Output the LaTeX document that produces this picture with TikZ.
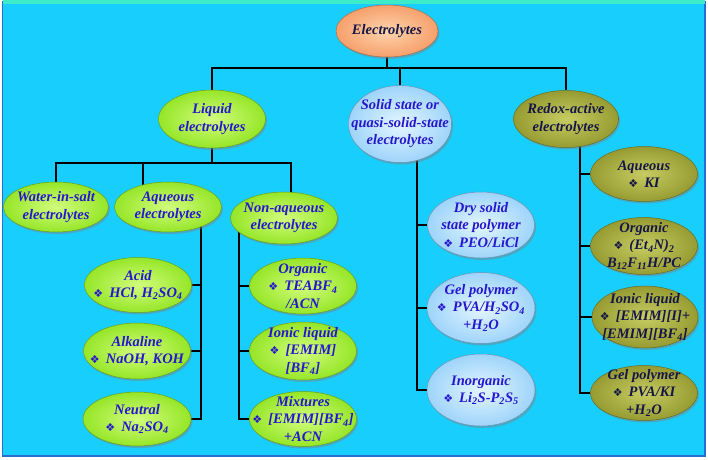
\documentclass[tikz,border=0pt]{standalone}
\usepackage{fontspec}
\setmainfont{Liberation Serif}
\newfontfamily\symfont{DejaVu Sans}
\usetikzlibrary{shapes.geometric,shadows}
\definecolor{bgcyan}{RGB}{24,206,252}
\definecolor{framebl}{RGB}{40,110,210}
\definecolor{topteal}{RGB}{60,235,200}
\definecolor{txtblue}{RGB}{38,22,205}
\definecolor{txtnavy}{RGB}{22,22,70}
\definecolor{grin}{RGB}{210,252,125}
\definecolor{grout}{RGB}{150,230,40}
\definecolor{blin}{RGB}{228,246,255}
\definecolor{blout}{RGB}{158,212,250}
\definecolor{olin}{RGB}{198,203,98}
\definecolor{olout}{RGB}{150,155,50}
\definecolor{saIn}{RGB}{255,212,172}
\definecolor{saOut}{RGB}{246,160,108}
\newcommand{\dia}{{\symfont\fontsize{11}{11}\selectfont ❖}\ \,}
\newcommand{\lo}[1]{\textsubscript{#1}}
\pgfdeclarelayer{bg}
\pgfdeclarelayer{lines}
\pgfsetlayers{bg,lines,main}
\tikzset{
  oval/.style={ellipse, inner xsep=-30pt, inner ysep=-20pt, align=center,
    font=\bfseries\itshape\fontsize{14.5}{17.5}\selectfont,
    line width=0.5pt,
    drop shadow={opacity=0.45,shadow xshift=1.5pt,shadow yshift=-2pt}},
  greenov/.style={oval, draw=grout!70!black, inner color=grin, outer color=grout, text=txtblue},
  blueov/.style={oval, draw=blout!70!black, inner color=blin, outer color=blout, text=txtblue},
  oliveov/.style={oval, draw=olout!70!black, inner color=olin, outer color=olout, text=txtnavy},
  salmonov/.style={oval, draw=saOut!70!black, inner color=saIn, outer color=saOut, text=txtnavy},
  conn/.style={draw=black, line width=1.8pt},
}
\begin{document}
\begin{tikzpicture}[x=1pt,y=-1pt]
\begin{pgfonlayer}{bg}
  \fill[white] (0,0) rectangle (708,459);
  \fill[bgcyan, draw=framebl, line width=1.5pt] (2.5,2) rectangle (705,456);
  \fill[topteal] (2.5,0) rectangle (705,4);
\end{pgfonlayer}
\useasboundingbox (0,0) rectangle (708,459);

% level 0 and 1
\node[salmonov, minimum width=102pt, minimum height=52pt] (el) at (387,31) {Electrolytes};
\node[greenov, minimum width=107pt, minimum height=58pt] (liq) at (212,119) {Liquid\\electrolytes};
\node[blueov, minimum width=103pt, minimum height=77pt] (sol) at (400,124) {Solid state or\\quasi-solid-state\\electrolytes};
\node[oliveov, minimum width=105pt, minimum height=57pt] (red) at (566,119) {Redox-active\\electrolytes};

% liquid level 2
\node[greenov, minimum width=105pt, minimum height=50pt] (wat) at (56,207) {Water-in-salt\\electrolytes};
\node[greenov, minimum width=107pt, minimum height=50pt] (aq) at (168,207) {Aqueous\\electrolytes};
\node[greenov, minimum width=107pt, minimum height=52pt] (naq) at (284,218) {Non-aqueous\\electrolytes};

% aqueous children
\node[greenov, minimum width=107pt, minimum height=55pt] (acid) at (138,285) {Acid\\\dia HCl, H\lo{2}SO\lo{4}};
\node[greenov, minimum width=107pt, minimum height=56pt] (alk) at (137,351) {Alkaline\\\dia NaOH, KOH};
\node[greenov, minimum width=108pt, minimum height=54pt] (neu) at (137,419) {Neutral\\\dia Na\lo{2}SO\lo{4}};

% non-aqueous children
\node[greenov, minimum width=107pt, minimum height=56pt] (org) at (303,286) {Organic\\\dia TEABF\lo{4}\\/ACN};
\node[greenov, minimum width=107pt, minimum height=58pt] (ion) at (303,351) {Ionic liquid\\\dia {[}EMIM{]}\\{[}BF\lo{4}{]}};
\node[greenov, minimum width=107pt, minimum height=55pt] (mix) at (303,419) {Mixtures\\\dia {[}EMIM{]}{[}BF\lo{4}{]}\\+ACN};

% solid children
\node[blueov, minimum width=107pt, minimum height=66pt] (dry) at (481,225) {Dry solid\\state polymer\\\dia PEO/LiCl};
\node[blueov, minimum width=108pt, minimum height=71pt] (gel) at (481,308) {Gel polymer\\\dia PVA/H\lo{2}SO\lo{4}\\+H\lo{2}O};
\node[blueov, minimum width=108pt, minimum height=72pt] (ino) at (481,390) {Inorganic\\\dia Li\lo{2}S-P\lo{2}S\lo{5}};

% redox children
\node[oliveov, minimum width=107pt, minimum height=55pt] (raq) at (644,174) {Aqueous\\\dia KI};
\node[oliveov, minimum width=107pt, minimum height=57pt] (rorg) at (644,246) {Organic\\\dia (Et\lo{4}N)\lo{2}\\B\lo{12}F\lo{11}H/PC};
\node[oliveov, minimum width=106pt, minimum height=62pt] (rion) at (645,317) {Ionic liquid\\\dia {[}EMIM{]}{[}I{]}+\\{[}EMIM{]}{[}BF\lo{4}{]}};
\node[oliveov, minimum width=107pt, minimum height=55pt] (rgel) at (644,393) {Gel polymer\\\dia PVA/KI\\+H\lo{2}O};

% junction coordinates
\coordinate (b0) at (387,68);
\coordinate (b1a) at (55,163);
\coordinate (b1b) at (143,163);
\coordinate (b1c) at (291,163);
\coordinate (v1) at (201,207);
\coordinate (v2) at (239,218);
\coordinate (v3) at (417,124);
\coordinate (v4) at (580,119);

\begin{pgfonlayer}{lines}
  % top tree
  \draw[conn] (el) -- (el |- b0);
  \draw[conn] (liq) -- (liq |- b0) -- (red |- b0) -- (red);
  \draw[conn] (sol) -- (sol |- b0);
  % liquid tree
  \draw[conn] (liq) -- (liq |- b1a);
  \draw[conn] (wat) -- (wat |- b1a) -- (b1c) -- (b1c |- naq);
  \draw[conn] (b1b) -- (b1b |- aq);
  % aqueous children
  \draw[conn] (v1) -- (v1 |- neu) -- (neu);
  \draw[conn] (acid) -- (acid -| v1);
  \draw[conn] (alk) -- (alk -| v1);
  % non-aqueous children
  \draw[conn] (v2) -- (v2 |- mix) -- (mix);
  \draw[conn] (org) -- (org -| v2);
  \draw[conn] (ion) -- (ion -| v2);
  % solid children
  \draw[conn] (sol) -- (v3) -- (v3 |- ino) -- (ino);
  \draw[conn] (dry) -- (dry -| v3);
  \draw[conn] (gel) -- (gel -| v3);
  % redox children
  \draw[conn] (red) -- (v4) -- (v4 |- rgel) -- (rgel);
  \draw[conn] (raq) -- (raq -| v4);
  \draw[conn] (rorg) -- (rorg -| v4);
  \draw[conn] (rion) -- (rion -| v4);
\end{pgfonlayer}
\end{tikzpicture}
\end{document}
